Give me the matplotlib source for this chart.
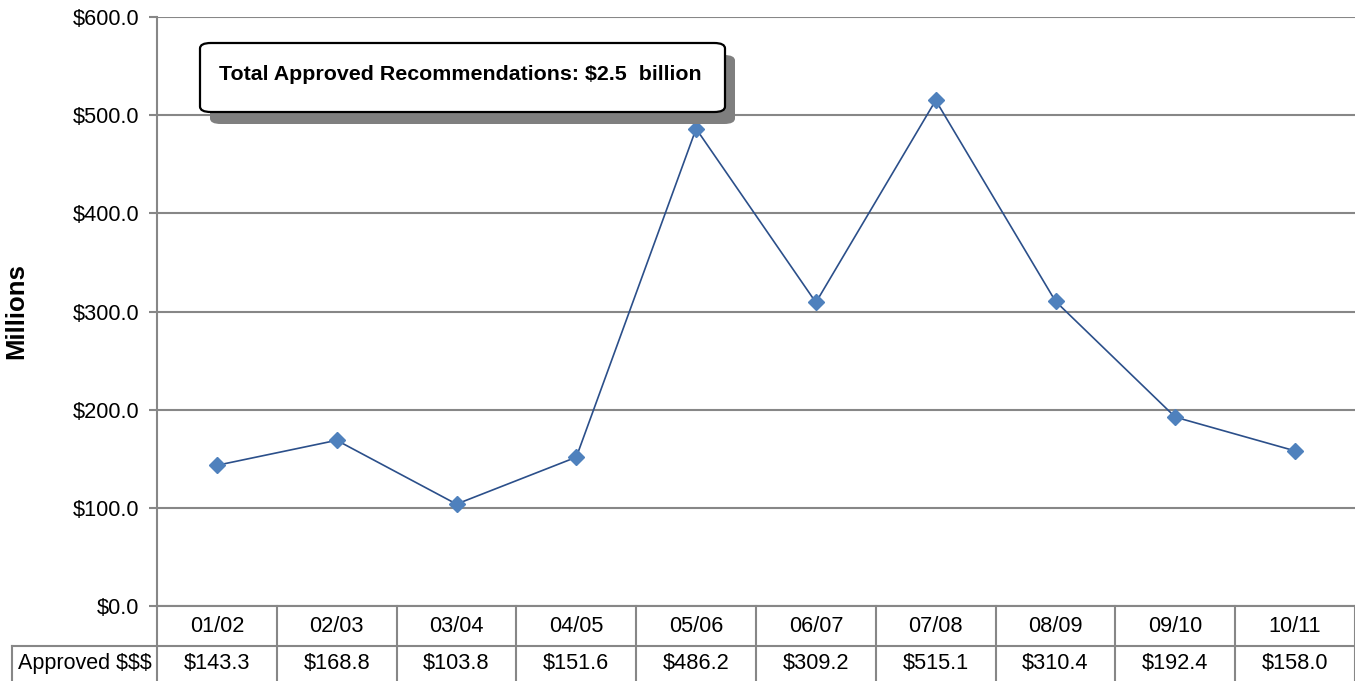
import matplotlib
matplotlib.use("Agg")
import matplotlib.pyplot as plt
from matplotlib.patches import FancyBboxPatch
import matplotlib.transforms as mtransforms

plt.rcParams['font.family'] = ['Liberation Sans', 'DejaVu Sans']

# fiscal years and approved amounts ($ millions)
years = ['01/02', '02/03', '03/04', '04/05', '05/06', '06/07', '07/08', '08/09', '09/10', '10/11']
approved = [143.3, 168.8, 103.8, 151.6, 486.2, 309.2, 515.1, 310.4, 192.4, 158.0]
row_label = 'Approved $$$'
yticks = [0, 100, 200, 300, 400, 500, 600]
total_note = 'Total Approved Recommendations: $2.5  billion'

W, H = 1355, 681
fig = plt.figure(figsize=(W / 100, H / 100), dpi=100)
ax = fig.add_axes([157 / W, (H - 606) / H, (W - 157) / W, (606 - 17) / H])

grey = '#878787'
fs = 15.7
x = list(range(len(years)))

ax.plot(x, approved, color='#2b4f8a', lw=1.2, zorder=3)
ax.plot(x, approved, ls='none', marker='D', ms=8.5, color='#4f81bd',
        markeredgecolor='#4f81bd', zorder=4)

ax.set_xlim(-0.5, len(years) - 0.5)
ax.set_ylim(0, 600)
ax.set_yticks(yticks)
ax.set_yticklabels(['${:.1f}'.format(v) for v in yticks], fontsize=fs)
ax.set_xticks([])
ax.yaxis.grid(True, color=grey, lw=1.5)
ax.set_axisbelow(True)
for s in ['top', 'right']:
    ax.spines[s].set_visible(False)
ax.spines['left'].set_color(grey)
ax.spines['left'].set_linewidth(1.5)
ax.spines['bottom'].set_color(grey)
ax.spines['bottom'].set_linewidth(1.5)
ax.tick_params(axis='y', length=6, width=1.5, color=grey, pad=7)
ax.set_ylabel('Millions', fontsize=18.5, fontweight='bold')
ax.yaxis.set_label_coords((28 - 157) / (W - 157), 0.5)

# data table underneath the chart
ah = 606 - 17
r1 = -40 / ah
r2 = -75 / ah
trans = mtransforms.blended_transform_factory(ax.transData, ax.transAxes)
for i in range(len(years) + 1):
    ax.plot([i - 0.5, i - 0.5], [0, r2], transform=trans, color=grey,
            lw=1.5, clip_on=False)
for i, (yr, v) in enumerate(zip(years, approved)):
    ax.text(i, r1 / 2, yr, transform=trans, ha='center', va='center',
            fontsize=fs, clip_on=False)
    ax.text(i, (r1 + r2) / 2, '${:.1f}'.format(v), transform=trans,
            ha='center', va='center', fontsize=fs, clip_on=False)
lx = (12 - 157) / (W - 157)
ax.plot([lx, 1], [r1, r1], transform=ax.transAxes, color=grey, lw=1.5,
        clip_on=False)
ax.plot([lx, lx], [r1, r2], transform=ax.transAxes, color=grey, lw=1.5,
        clip_on=False)
ax.text((lx + 0) / 2, (r1 + r2) / 2, row_label, transform=ax.transAxes,
        ha='center', va='center', fontsize=15.5, clip_on=False)

# callout box with shadow
def px(x0, y0):
    return x0 / W, 1 - y0 / H

bx0, by0, bx1, by1 = 200, 43, 725, 112
sx, sy = 10, 12
shadow = FancyBboxPatch(px(bx0 + sx, by1 + sy), (bx1 - bx0) / W, (by1 - by0) / H,
                        boxstyle='round,pad=0,rounding_size=0.008',
                        transform=fig.transFigure, facecolor='#7f7f7f',
                        edgecolor='none', zorder=5)
box = FancyBboxPatch(px(bx0, by1), (bx1 - bx0) / W, (by1 - by0) / H,
                     boxstyle='round,pad=0,rounding_size=0.008',
                     transform=fig.transFigure, facecolor='white',
                     edgecolor='black', lw=1.6, zorder=6)
fig.patches.extend([shadow, box])
fig.text(219 / W, 1 - 74 / H, total_note, fontsize=15.4, fontweight='bold',
         ha='left', va='center', zorder=7)

fig.savefig('out.png', dpi=100)
